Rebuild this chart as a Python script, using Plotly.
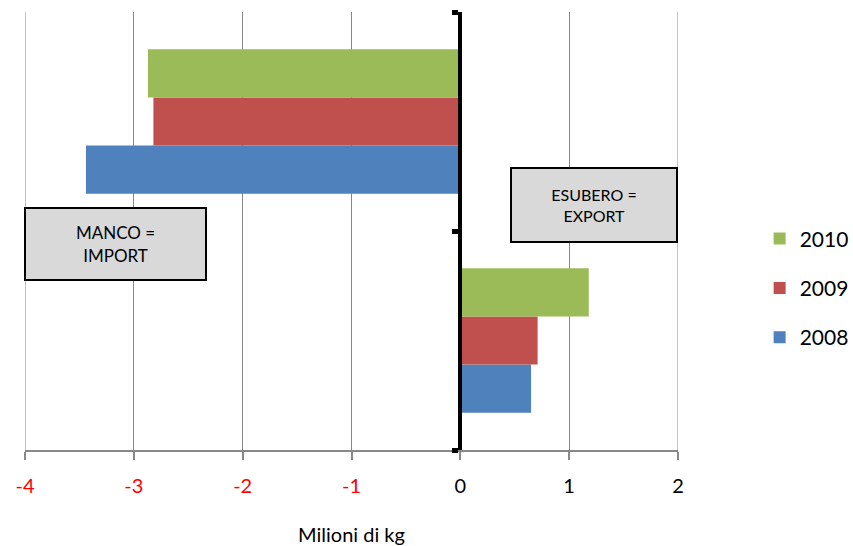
import plotly.graph_objects as go

categories = ["EXPORT", "IMPORT"]
years = ["2008", "2009", "2010"]
values_2008 = [0.65, -3.44]
values_2009 = [0.71, -2.82]
values_2010 = [1.18, -2.87]
colors = ["#4F81BD", "#C0504D", "#9BBB59"]
tick_vals = [-4, -3, -2, -1, 0, 1, 2]
tick_text = ['<span style="color:#FF0000">-4</span>', '<span style="color:#FF0000">-3</span>',
             '<span style="color:#FF0000">-2</span>', '<span style="color:#FF0000">-1</span>',
             '0', '1', '2']

FONT = "Lato"
fig = go.Figure()
for i, (name, vals, col) in enumerate(zip(years, [values_2008, values_2009, values_2010], colors)):
    fig.add_trace(go.Bar(y=categories, x=vals, name=name, orientation="h",
                         marker=dict(color=col, line=dict(width=0)),
                         legendgroup=name, legendrank=10 - i))

fig.update_layout(
    width=853, height=546,
    margin=dict(l=25, r=175, t=12, b=96, autoexpand=False),
    paper_bgcolor="white", plot_bgcolor="white",
    barmode="group", bargap=0.34, bargroupgap=0,
    font=dict(family=FONT, size=19, color="black"),
    showlegend=True,
    legend=dict(x=1.125, y=0.37, xanchor="left", yanchor="middle",
                traceorder="grouped", tracegroupgap=19,
                font=dict(size=21, family=FONT), itemwidth=30),
    xaxis=dict(range=[-4, 2], tickvals=tick_vals, ticktext=tick_text,
               showgrid=True, gridcolor="#888888", gridwidth=1,
               zeroline=False, showline=True, linecolor="#888888", linewidth=1.5,
               ticks="outside", ticklen=8, tickcolor="#888888", tickwidth=1.5,
               ticklabelstandoff=9,
               tickfont=dict(size=20, family=FONT),
               title=dict(text="Milioni di kg", font=dict(size=20, family=FONT), standoff=38),
               domain=[0, 1]),
    yaxis=dict(range=[-0.5, 1.5], anchor="free", position=4/6,
               showline=True, linecolor="black", linewidth=4,
               ticks="outside", tickson="boundaries", ticklen=6, tickwidth=5, tickcolor="black",
               showticklabels=False, showgrid=False, zeroline=False),
)

# edge gridlines (plotly skips gridlines at the exact range ends)
for xv in (tick_vals[0], tick_vals[-1]):
    fig.add_shape(type="line", xref="x", yref="paper", x0=xv, x1=xv, y0=0, y1=1,
                  line=dict(color="#888888", width=1), layer="below")

fig.add_annotation(x=-3.17, y=0.47, xref="x", yref="paper", text="MANCO =<br>IMPORT",
                   showarrow=False, width=179, height=70, bgcolor="#D9D9D9",
                   bordercolor="black", borderwidth=2, borderpad=0,
                   font=dict(size=17, family=FONT, color="black"), align="center")
fig.add_annotation(x=1.23, y=0.559, xref="x", yref="paper", text="ESUBERO =<br>EXPORT",
                   showarrow=False, width=164, height=72, bgcolor="#D9D9D9",
                   bordercolor="black", borderwidth=2, borderpad=0,
                   font=dict(size=16, family=FONT, color="black"), align="center")

fig.write_html("out.html")
